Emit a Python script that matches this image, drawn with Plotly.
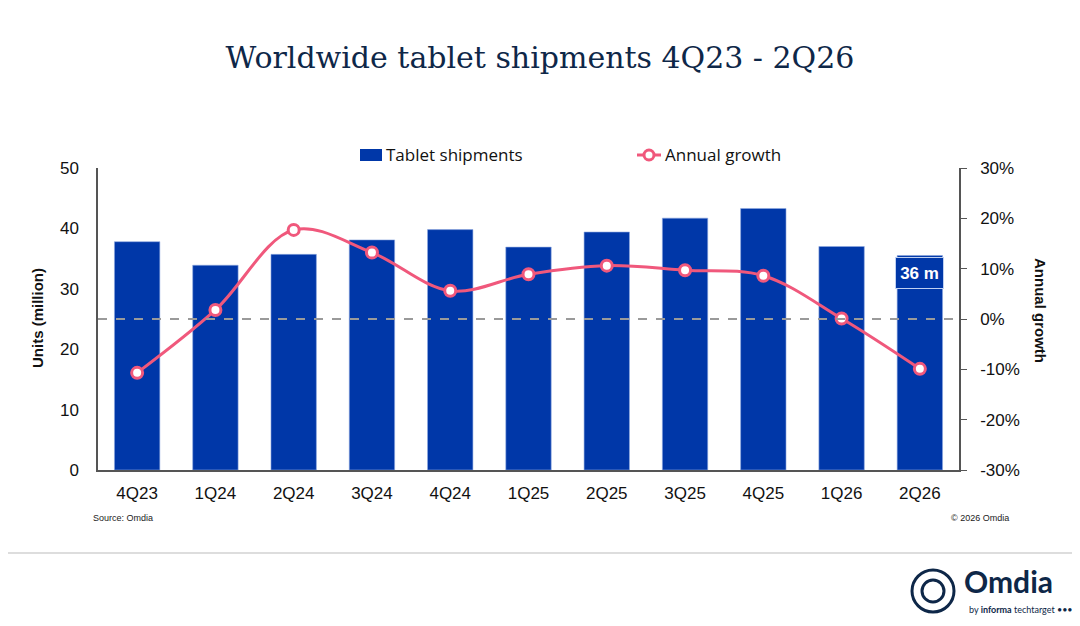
import plotly.graph_objects as go

quarters = ["4Q23", "1Q24", "2Q24", "3Q24", "4Q24", "1Q25", "2Q25", "3Q25", "4Q25", "1Q26", "2Q26"]
shipments = [37.8, 33.9, 35.7, 38.1, 39.8, 36.9, 39.4, 41.7, 43.3, 37.0, 35.5]
growth = [-10.7, 1.8, 17.7, 13.2, 5.6, 8.9, 10.6, 9.7, 8.6, 0.1, -9.9]
left_ticks = [0, 10, 20, 30, 40, 50]
right_ticks = [-30, -20, -10, 0, 10, 20, 30]
last_label = "36 m"

BLUE = "#0037A8"
PINK = "#F0587C"
NAVY = "#0E2748"
TICKFONT = "Liberation Sans"
LEGFONT = "Open Sans"

# page offset (body margin) compensation
OFF = 8
L, R, T, B = 98, 959, 168, 470  # plot area in reference pixels


def px2x(px):
    return (px - L) / (R - L)


def py2y(py):
    return (B - py) / (B - T)


fig = go.Figure()
fig.add_trace(go.Bar(
    x=quarters, y=shipments, name="Tablet shipments",
    marker=dict(color=BLUE, line=dict(color="#8FA9E0", width=0.6)),
    yaxis="y", showlegend=False,
))
fig.add_trace(go.Scatter(
    x=quarters, y=growth, name="Annual growth", yaxis="y2",
    mode="lines+markers", showlegend=False,
    line=dict(color=PINK, width=3, shape="spline", smoothing=1.0),
    marker=dict(size=11, color="white", line=dict(color=PINK, width=3)),
))

fig.add_shape(type="line", xref="paper", yref="y2", x0=0, x1=1, y0=0, y1=0,
              line=dict(color="#9A9A9A", width=2, dash="dash"), layer="above")

fig.add_annotation(x=quarters[-1], y=shipments[-1], xref="x", yref="y",
                   text="<b>" + last_label + "</b>", showarrow=False,
                   xanchor="center", yanchor="top", yshift=-1, width=41, height=24,
                   font=dict(family=TICKFONT, size=17, color="white"),
                   bgcolor=BLUE, bordercolor="#BFD0F2", borderwidth=1, borderpad=3)

fig.update_layout(
    width=1080, height=626,
    paper_bgcolor="white", plot_bgcolor="white",
    margin=dict(l=L - OFF, r=1080 - (R - OFF), t=T - OFF, b=626 - (B - OFF)),
    bargap=0.42,
    title=dict(text="Worldwide tablet shipments 4Q23 - 2Q26",
               font=dict(family="DejaVu Serif", size=30, color=NAVY),
               x=px2x(540), xanchor="center", xref="paper",
               y=1 - (57 - OFF) / 626, yanchor="middle", yref="container"),
    showlegend=False,
    xaxis=dict(range=[-0.5, len(quarters) - 0.5], autorange=False,
               showline=True, linecolor="#555555", linewidth=1.5,
               tickfont=dict(family=TICKFONT, size=17, color="#111111"),
               ticks="outside", ticklen=7, tickcolor="rgba(0,0,0,0)", showgrid=False),
    yaxis=dict(range=[0, 50], tickvals=left_ticks, showline=True, linecolor="#555555",
               linewidth=1.5, showgrid=False, zeroline=False,
               ticks="outside", ticklen=14, tickcolor="rgba(0,0,0,0)",
               tickfont=dict(family=TICKFONT, size=17, color="#111111")),
    yaxis2=dict(range=[-30, 30], tickvals=right_ticks,
                ticktext=[f"{v}%" for v in right_ticks],
                overlaying="y", side="right", showline=True, linecolor="#555555",
                linewidth=1.5, showgrid=False, zeroline=False,
                ticks="outside", ticklen=6, tickcolor="#555555",
                ticklabelstandoff=10,
                tickfont=dict(family=TICKFONT, size=17, color="#111111")),
)


def note(x, y, text, size, family=TICKFONT, color="#111111", xanchor="center",
         angle=0):
    fig.add_annotation(xref="paper", yref="paper", x=px2x(x), y=py2y(y),
                       xanchor=xanchor, yanchor="middle", text=text,
                       textangle=angle, showarrow=False,
                       font=dict(family=family, size=size, color=color))


# axis titles
note(37, 318, "<b>Units (million)</b>", 15, angle=-90)
note(1041, 310, "<b>Annual growth</b>", 15, angle=90)

# manual legend
fig.add_shape(type="rect", xref="paper", yref="paper",
              x0=px2x(360), x1=px2x(382), y0=py2y(161), y1=py2y(149),
              fillcolor=BLUE, line=dict(width=0))
note(384, 155, "Tablet shipments", 17, family=LEGFONT, xanchor="left")
fig.add_shape(type="line", xref="paper", yref="paper",
              x0=px2x(637), x1=px2x(661), y0=py2y(155), y1=py2y(155),
              line=dict(color=PINK, width=3))
fig.add_shape(type="circle", xref="paper", yref="paper",
              x0=px2x(644), x1=px2x(654), y0=py2y(160), y1=py2y(150),
              fillcolor="white", line=dict(color=PINK, width=3))
note(663, 155, "Annual growth", 17, family=LEGFONT, xanchor="left")

# source / copyright
note(91, 518, "Source: Omdia", 9, color="#222222", xanchor="left")
note(1011, 518, "© 2026 Omdia", 9, color="#222222", xanchor="right")

# footer separator line
fig.add_shape(type="line", xref="paper", yref="paper",
              x0=px2x(0), x1=px2x(1076), y0=py2y(553), y1=py2y(553),
              line=dict(color="#BBBBBB", width=1.2))

# logo
fig.add_shape(type="circle", xref="paper", yref="paper",
              x0=px2x(912), x1=px2x(954), y0=py2y(612), y1=py2y(570),
              line=dict(color=NAVY, width=3))
fig.add_shape(type="circle", xref="paper", yref="paper",
              x0=px2x(922), x1=px2x(944), y0=py2y(602), y1=py2y(580),
              line=dict(color=NAVY, width=3))
note(962, 581, "<b>Omdia</b>", 30, family="Lato", color=NAVY, xanchor="left")
note(967, 609, "by <b>informa</b> techtarget •••", 9, family="Lato", color=NAVY,
     xanchor="left")

fig.write_html("out.html")
